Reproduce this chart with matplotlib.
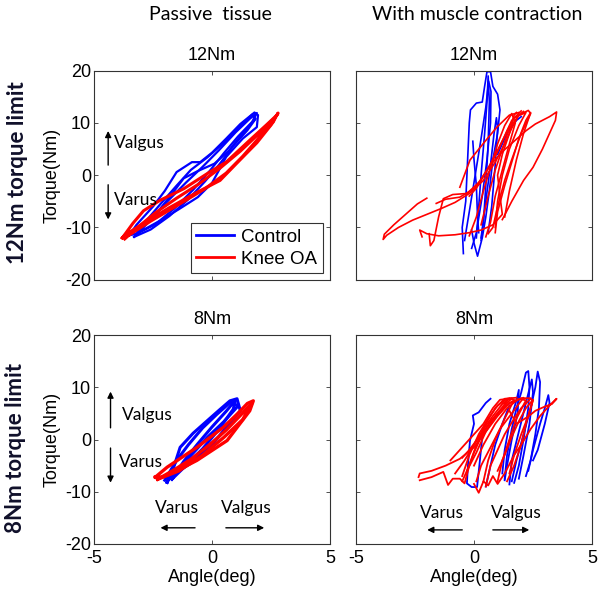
import matplotlib
matplotlib.use("Agg")
import matplotlib.pyplot as plt

plt.rcParams['font.family'] = ['Liberation Sans', 'DejaVu Sans']
plt.rcParams['axes.unicode_minus'] = False

###########
# Data    #
###########
# Each series is a list of traced loops, each loop a list of (angle, torque)

# Passive tissue, 12Nm limit
pass12_ctrl = [
    [(-3.5, -11.5), (-3.2, -9.5), (-2.5, -6.0), (-2.0, -3.0), (-1.5, 0.6), (-0.85, 2.5),
     (-0.5, 2.5), (0.0, 4.3), (0.6, 7.0), (1.2, 9.8), (1.8, 12.0), (1.95, 11.5),
     (1.9, 9.2), (1.3, 7.0), (0.6, 3.5), (0.0, -1.5), (-0.6, -4.2), (-1.4, -6.5),
     (-2.2, -8.7), (-3.2, -11.2), (-3.5, -11.5)],
    [(-3.3, -11.8), (-2.8, -8.8), (-2.2, -5.6), (-1.5, -2.0), (-0.9, 1.0), (-0.2, 3.4),
     (0.5, 6.2), (1.1, 9.0), (1.7, 11.6), (1.85, 10.8), (1.5, 8.6), (0.9, 5.6),
     (0.3, 2.0), (-0.3, -1.2), (-1.0, -4.6), (-1.8, -7.8), (-2.6, -10.4), (-3.3, -11.8)],
    [(-3.1, -11.0), (-2.5, -8.0), (-1.8, -4.6), (-1.1, -1.4), (-0.4, 1.6), (0.3, 4.8),
     (1.0, 8.2), (1.6, 10.8), (1.9, 11.9), (1.7, 10.2), (1.1, 7.4), (0.5, 4.2),
     (-0.1, 0.8), (-0.8, -2.8), (-1.6, -6.4), (-2.4, -9.4), (-3.1, -11.0)],
    [(-3.4, -11.2), (-2.9, -9.6), (-2.3, -7.0), (-1.7, -3.6), (-1.2, -0.6), (-0.6, 0.8),
     (0.1, 2.2), (0.7, 4.6), (1.3, 8.0), (1.8, 10.6)],
]
pass12_oa = [
    [(-3.8, -12.0), (-3.35, -9.2), (-2.9, -6.8), (-2.2, -4.8), (-1.2, -2.6), (-0.1, 0.6),
     (0.6, 2.5), (1.6, 6.7), (2.3, 9.6), (2.75, 11.5), (2.8, 11.9), (2.5, 9.6),
     (1.9, 6.2), (1.05, 2.3), (0.34, -1.0), (-0.64, -3.3), (-1.8, -6.2), (-2.9, -9.2),
     (-3.7, -11.5), (-3.8, -12.0)],
    [(-3.7, -12.2), (-3.1, -9.8), (-2.4, -7.2), (-1.5, -4.4), (-0.6, -1.8), (0.3, 1.2),
     (1.2, 4.6), (2.0, 8.0), (2.7, 11.2), (2.6, 10.2), (2.0, 7.2), (1.3, 3.6),
     (0.6, 0.4), (-0.3, -2.6), (-1.4, -5.6), (-2.6, -8.8), (-3.5, -11.4)],
]

# With muscle contraction, 12Nm limit
act12_ctrl = [
    [(-0.45, -15.0), (-0.5, -10.0), (-0.35, -5.0), (-0.3, 0.0), (-0.25, 5.0), (-0.2, 10.0),
     (-0.15, 12.5), (0.1, 13.8), (0.35, 14.0), (0.45, 17.0), (0.55, 19.8), (0.7, 19.8),
     (0.8, 17.0), (1.0, 15.5), (1.1, 12.5), (1.0, 8.0), (0.8, 3.0), (0.65, -3.0),
     (0.5, -8.0), (0.35, -12.0), (0.15, -15.5), (0.0, -13.0), (-0.1, -10.5)],
    [(0.1, -12.0), (0.2, -6.0), (0.3, 0.0), (0.45, 8.0), (0.55, 14.0), (0.6, 19.0),
     (0.65, 14.0), (0.6, 6.0), (0.5, -2.0), (0.4, -9.0), (0.3, -12.5)],
    [(0.3, -12.0), (0.5, -5.0), (0.7, 2.0), (0.85, 8.0), (0.95, 11.0), (1.0, 9.0),
     (0.9, 2.0), (0.75, -6.0), (0.6, -11.0)],
    [(-0.05, 6.5), (0.0, 3.0), (0.1, -2.0), (0.15, -8.0), (0.2, -11.0)],
    [(1.0, 4.0), (1.4, 8.0), (1.8, 10.5), (2.0, 11.2)],
    [(-0.4, -12.5), (-0.2, -7.0), (0.05, 0.0), (0.3, 7.0), (0.5, 13.0), (0.62, 18.0),
     (0.72, 16.0), (0.7, 10.0), (0.55, 3.0), (0.35, -4.0), (0.1, -11.0), (-0.1, -14.0)],
]
act12_oa = [
    [(-2.0, -4.4), (-2.4, -5.5), (-2.9, -7.5), (-3.4, -9.5), (-3.8, -11.3), (-3.85, -12.3),
     (-3.7, -11.5), (-3.2, -10.0), (-2.6, -8.6), (-2.0, -7.5), (-1.4, -6.4), (-0.8, -5.2),
     (-0.2, -3.5), (0.4, -1.0), (0.9, 2.5), (1.3, 6.0), (1.6, 9.0), (1.9, 11.5), (2.1, 12.2)],
    [(-2.2, -11.8), (-2.3, -10.5), (-2.0, -11.2), (-1.5, -11.6), (-0.8, -11.4), (-0.2, -11.0),
     (0.3, -10.5), (0.8, -9.5), (1.2, -7.5), (1.1, -4.0), (1.0, 0.0), (1.2, 4.0),
     (1.5, 8.0), (1.7, 11.5), (1.8, 12.0)],
    [(-1.9, -11.2), (-1.85, -13.5), (-1.7, -12.5), (-1.5, -8.0), (-1.3, -4.5), (-0.9, -3.7),
     (-0.3, -3.5), (0.3, -1.0), (0.8, 3.0), (1.3, 7.5), (1.6, 10.5), (2.0, 12.3)],
    [(1.2, -8.5), (1.6, -5.0), (2.1, -1.0), (2.5, 1.5), (2.9, 5.0), (3.2, 8.0),
     (3.45, 10.5), (3.5, 12.1), (3.2, 11.2), (2.9, 10.5), (2.6, 9.8), (2.2, 8.5),
     (1.7, 6.5), (1.2, 4.5), (0.8, 2.5), (0.4, 0.0), (0.1, -2.5), (-0.2, -4.0)],
    [(0.3, -9.5), (0.6, -4.0), (0.9, 1.0), (1.2, 5.0), (1.5, 9.0), (1.9, 11.5),
     (2.3, 12.4), (2.4, 11.8), (2.0, 8.0), (1.6, 3.0), (1.3, -1.0), (1.0, -6.0),
     (0.8, -10.0), (0.6, -11.2)],
    [(-0.6, -2.3), (-0.17, 2.9), (0.4, 6.1), (0.97, 9.2), (1.5, 11.5), (1.9, 12.0)],
    [(-0.2, -11.6), (0.1, -8.0), (0.4, -3.0), (0.7, 1.5), (1.0, 6.0), (1.3, 9.5),
     (1.6, 11.8), (1.75, 10.0), (1.5, 6.0), (1.2, 1.0), (0.9, -4.0), (0.7, -9.0), (0.5, -11.8)],
    [(-1.6, -5.4), (-1.2, -4.6), (-0.6, -4.2), (0.0, -2.6), (0.5, 0.5), (1.0, 4.5),
     (1.4, 8.5), (1.7, 11.0), (2.2, 12.0), (1.9, 9.5), (1.5, 5.0), (1.2, 0.0),
     (1.0, -5.0), (0.9, -10.0)],
    [(0.9, -11.0), (1.0, -7.0), (1.3, -2.0), (1.6, 2.5), (1.9, 7.0), (2.2, 10.5),
     (2.4, 12.0), (2.1, 8.0), (1.8, 3.0), (1.5, -3.0), (1.3, -8.0)],
]

# Passive tissue, 8Nm limit
pass8_ctrl = [
    [(-1.9, -8.2), (-1.6, -5.0), (-1.35, -1.5), (-0.8, 1.2), (-0.2, 3.6), (0.3, 5.6),
     (0.76, 7.4), (1.06, 7.8), (1.2, 5.5), (0.6, 2.3), (0.04, -0.8), (-0.93, -4.6),
     (-1.8, -7.2), (-1.9, -8.2)],
    [(-1.7, -7.6), (-1.2, -4.2), (-0.6, -0.8), (0.0, 2.4), (0.6, 5.4), (1.0, 7.6),
     (0.9, 5.8), (0.3, 2.0), (-0.4, -1.8), (-1.2, -5.4), (-1.7, -7.6)],
    [(-2.0, -7.8), (-1.5, -4.0), (-1.0, -1.0), (-0.4, 2.2), (0.2, 4.8), (0.8, 7.2),
     (1.1, 6.4), (0.5, 3.4), (-0.2, 0.4), (-1.0, -3.6), (-1.6, -6.8)],
]
pass8_oa = [
    [(-2.4, -7.2), (-1.9, -5.3), (-0.64, -1.5), (0.47, 2.3), (1.1, 5.0), (1.5, 6.9),
     (1.75, 7.4), (1.6, 5.5), (0.64, -0.2), (-0.64, -4.0), (-1.5, -6.0), (-2.1, -7.2),
     (-2.4, -7.2)],
    [(-2.3, -7.6), (-1.6, -5.8), (-0.9, -3.8), (-0.1, -1.0), (0.6, 1.8), (1.2, 4.6),
     (1.7, 7.0), (1.3, 3.8), (0.5, 0.4), (-0.4, -3.0), (-1.4, -6.0), (-2.3, -7.6)],
]

# With muscle contraction, 8Nm limit
act8_ctrl = [
    [(0.7, 7.8), (0.5, 7.0), (0.2, 5.2), (-0.05, 4.6), (0.0, 3.0), (-0.17, -0.2),
     (-0.25, -4.5), (-0.3, -8.4), (-0.1, -9.1), (0.13, -9.1), (0.25, -4.0), (0.35, 0.5)],
    [(1.3, -7.5), (1.4, -3.0), (1.6, 2.0), (1.8, 6.0), (2.0, 9.0), (2.2, 12.8),
     (2.3, 13.1), (2.35, 10.0), (2.3, 6.0), (2.1, 0.0), (1.9, -5.0), (1.7, -8.3)],
    [(1.6, -8.0), (1.8, -4.0), (2.1, 1.0), (2.4, 6.0), (2.6, 10.0), (2.7, 13.0),
     (2.8, 11.0), (2.75, 6.0), (2.6, 1.0), (2.4, -4.0), (2.2, -7.0)],
    [(2.3, -6.0), (2.5, -2.0), (2.8, 3.0), (3.0, 6.0), (3.15, 8.5), (3.2, 7.0),
     (3.0, 3.0), (2.7, -2.0), (2.5, -4.0)],
    [(1.2, -6.5), (1.3, -2.0), (1.5, 3.0), (1.8, 7.5), (1.9, 9.5), (1.85, 5.0),
     (1.6, 0.0), (1.4, -5.0), (1.3, -7.8)],
    [(0.5, -9.0), (0.7, -5.0), (0.9, -1.0), (1.2, 3.0), (1.5, 6.5)],
    [(1.5, -8.6), (1.6, -4.0), (1.9, 1.5), (2.2, 7.0), (2.45, 11.5), (2.5, 9.0),
     (2.35, 3.0), (2.1, -3.0), (1.9, -7.5)],
]
act8_oa = [
    [(-2.35, -7.2), (-2.3, -6.5), (-1.8, -6.0), (-1.2, -5.0), (-0.6, -3.7), (0.0, -1.5),
     (0.5, 1.5), (1.0, 4.5), (1.5, 7.0), (2.0, 7.9), (2.4, 7.9)],
    [(-2.3, -7.8), (-1.8, -7.2), (-1.3, -6.2), (-1.1, -8.7), (-0.9, -7.5), (-0.6, -7.5),
     (-0.4, -8.4), (-0.2, -5.0), (0.1, -1.0), (0.5, 3.0), (0.9, 6.0), (1.3, 7.8), (1.8, 8.0)],
    [(0.0, -8.5), (0.2, -10.2), (0.4, -8.0), (0.6, -8.8), (0.8, -7.0), (1.0, -8.5),
     (1.3, -6.5), (1.7, -3.0), (2.0, -1.0), (2.4, 2.0), (2.8, 4.5), (3.2, 6.5),
     (3.5, 7.8), (3.3, 6.8), (3.0, 6.3), (2.6, 5.5), (2.3, 4.4), (1.8, 3.0), (1.5, 5.5)],
    [(-0.5, -7.0), (-0.2, -3.0), (0.2, 1.0), (0.6, 4.0), (1.0, 6.5), (1.4, 7.8),
     (1.7, 7.6), (1.3, 4.0), (0.9, 0.0), (0.6, -4.0), (0.4, -8.0)],
    [(0.0, -5.0), (0.4, -1.0), (0.9, 3.0), (1.4, 6.0), (1.9, 7.8), (2.2, 7.5),
     (1.8, 4.0), (1.5, 0.0), (1.2, -4.0), (1.0, -8.0)],
    [(-1.0, -4.0), (-0.6, -2.0), (-0.1, 0.5), (0.4, 3.0), (0.8, 6.0), (1.1, 7.6),
     (1.6, 7.9), (0.9, 4.5), (0.3, 1.0), (-0.2, -2.0), (-0.5, -3.5)],
    [(0.5, -9.0), (0.7, -5.0), (1.0, -2.0), (1.3, 1.0), (1.7, 4.0), (2.0, 6.0),
     (2.4, 7.8), (2.5, 7.5), (2.2, 3.0), (2.0, -1.0), (1.7, -5.0), (1.4, -8.0)],
    [(-0.3, -6.0), (0.0, -2.5), (0.3, 0.5), (0.7, 3.5), (1.1, 5.5), (1.6, 7.2),
     (2.1, 8.0), (1.6, 5.0), (1.1, 2.0), (0.7, -1.5), (0.3, -5.0), (0.1, -8.0)],
    [(-0.8, -6.5), (-0.4, -4.0), (0.0, -1.0), (0.4, 2.0), (0.8, 4.5), (1.2, 6.8),
     (1.5, 7.9), (1.0, 5.0), (0.5, 1.5), (0.1, -2.5), (-0.3, -6.0), (-0.5, -8.0)],
    [(1.0, -6.0), (1.3, -3.0), (1.6, 0.5), (1.9, 3.5), (2.2, 6.0), (2.5, 7.6),
     (2.3, 4.5), (2.0, 1.0), (1.7, -3.0), (1.5, -6.5)],
]

col_titles = ['Passive  tissue', 'With muscle contraction']
row_titles = ['12Nm torque limit', '8Nm torque limit']
panel_titles = ['12Nm', '8Nm']
ticks_x = [-5, 0, 5]
ticks_y = [-20, -10, 0, 10, 20]

blue = '#0000ff'
red = '#ff0000'
navy = '#10102a'
label_font = ['Lato', 'DejaVu Sans']

##########
# Script #
##########

fig = plt.figure(figsize=(6.04, 5.98), dpi=100)

W, H = 604.0, 598.0
def add_ax(left, top):
    return fig.add_axes([left / W, 1 - (top + 209) / H, 236 / W, 209 / H])

axes = [[add_ax(94, 70.7), add_ax(356, 70.7)],
        [add_ax(94, 335), add_ax(356, 335)]]

def draw(ax, loops, color, lw):
    for loop in loops:
        xs = [p[0] for p in loop]
        ys = [p[1] for p in loop]
        ax.plot(xs, ys, color=color, lw=lw, solid_joinstyle='round')

draw(axes[0][0], pass12_ctrl, blue, 1.6)
draw(axes[0][0], pass12_oa, red, 2.2)
draw(axes[0][1], act12_ctrl, blue, 1.2)
draw(axes[0][1], act12_oa, red, 1.2)
draw(axes[1][0], pass8_ctrl, blue, 2.2)
draw(axes[1][0], pass8_oa, red, 2.4)
draw(axes[1][1], act8_ctrl, blue, 1.3)
draw(axes[1][1], act8_oa, red, 1.3)

for r in range(2):
    for c in range(2):
        ax = axes[r][c]
        ax.set_xlim(-5, 5)
        ax.set_ylim(-20, 20)
        ax.set_xticks(ticks_x)
        ax.set_yticks(ticks_y)
        ax.tick_params(direction='in', length=3, width=0.6, top=True, right=True,
                       labelsize=13, colors='#333333', labelcolor='black', pad=2)
        ax.tick_params(axis='x', pad=4)
        for s in ax.spines.values():
            s.set_color('#333333')
            s.set_linewidth(0.8)
        ax.set_title(panel_titles[r], fontsize=13, pad=8)
        if r == 0:
            ax.set_xticklabels([])
        else:
            ax.set_xlabel('Angle(deg)', fontsize=13, labelpad=2)
        if c == 1:
            ax.set_yticklabels([])
        else:
            ax.set_ylabel('Torque(Nm)', fontsize=13, labelpad=3)

# legend in the first panel
l1, = axes[0][0].plot([], [], color=blue, lw=2, label='Control')
l2, = axes[0][0].plot([], [], color=red, lw=2, label='Knee OA')
leg = axes[0][0].legend(handles=[l1, l2], loc='lower right', bbox_to_anchor=(0.97, 0.03),
                        fontsize=13.5, frameon=True, fancybox=False, edgecolor='black',
                        labelspacing=0.25, handlelength=2.0, borderpad=0.3,
                        handletextpad=0.4, borderaxespad=0)
leg.get_frame().set_linewidth(0.8)

# varus / valgus annotations
arrow = dict(arrowstyle='-|>', color='black', lw=1.0, mutation_scale=9)
ax = axes[0][0]
ax.annotate('', xy=(-4.4, 9.0), xytext=(-4.4, 1.4), arrowprops=arrow)
ax.annotate('', xy=(-4.4, -9.0), xytext=(-4.4, -1.3), arrowprops=arrow)
ax.text(-4.15, 6.2, 'Valgus', fontsize=12.5, family=label_font, va='center')
ax.text(-4.15, -4.8, 'Varus', fontsize=12.5, family=label_font, va='center')

ax = axes[1][0]
ax.annotate('', xy=(-4.3, 9.7), xytext=(-4.3, 1.7), arrowprops=arrow)
ax.annotate('', xy=(-4.3, -8.8), xytext=(-4.3, -1.1), arrowprops=arrow)
ax.text(-3.8, 4.6, 'Valgus', fontsize=12.5, family=label_font, va='center')
ax.text(-3.95, -4.4, 'Varus', fontsize=12.5, family=label_font, va='center')
ax.annotate('', xy=(-2.3, -16.9), xytext=(-0.6, -16.9), arrowprops=arrow)
ax.annotate('', xy=(2.33, -16.9), xytext=(0.47, -16.9), arrowprops=arrow)
ax.text(-1.5, -13.1, 'Varus', fontsize=12.5, family=label_font, ha='center', va='center')
ax.text(1.45, -13.1, 'Valgus', fontsize=12.5, family=label_font, ha='center', va='center')

ax = axes[1][1]
ax.annotate('', xy=(-2.1, -17.3), xytext=(-0.38, -17.3), arrowprops=arrow)
ax.annotate('', xy=(2.46, -17.3), xytext=(0.68, -17.3), arrowprops=arrow)
ax.text(-1.35, -14.1, 'Varus', fontsize=12.5, family=label_font, ha='center', va='center')
ax.text(1.8, -14.1, 'Valgus', fontsize=12.5, family=label_font, ha='center', va='center')

# column and row headings
fig.text(210 / W, 1 - 15 / H, col_titles[0], fontsize=14, family=label_font,
         ha='center', va='center')
fig.text(477 / W, 1 - 15 / H, col_titles[1], fontsize=14, family=label_font,
         ha='center', va='center')
fig.text(18 / W, 1 - 173 / H, row_titles[0], fontsize=16, family=label_font,
         weight='bold', color=navy, rotation=90, ha='center', va='center')
fig.text(16 / W, 1 - 448 / H, row_titles[1], fontsize=16, family=label_font,
         weight='bold', color=navy, rotation=90, ha='center', va='center')

fig.savefig('out.png', dpi=100)
